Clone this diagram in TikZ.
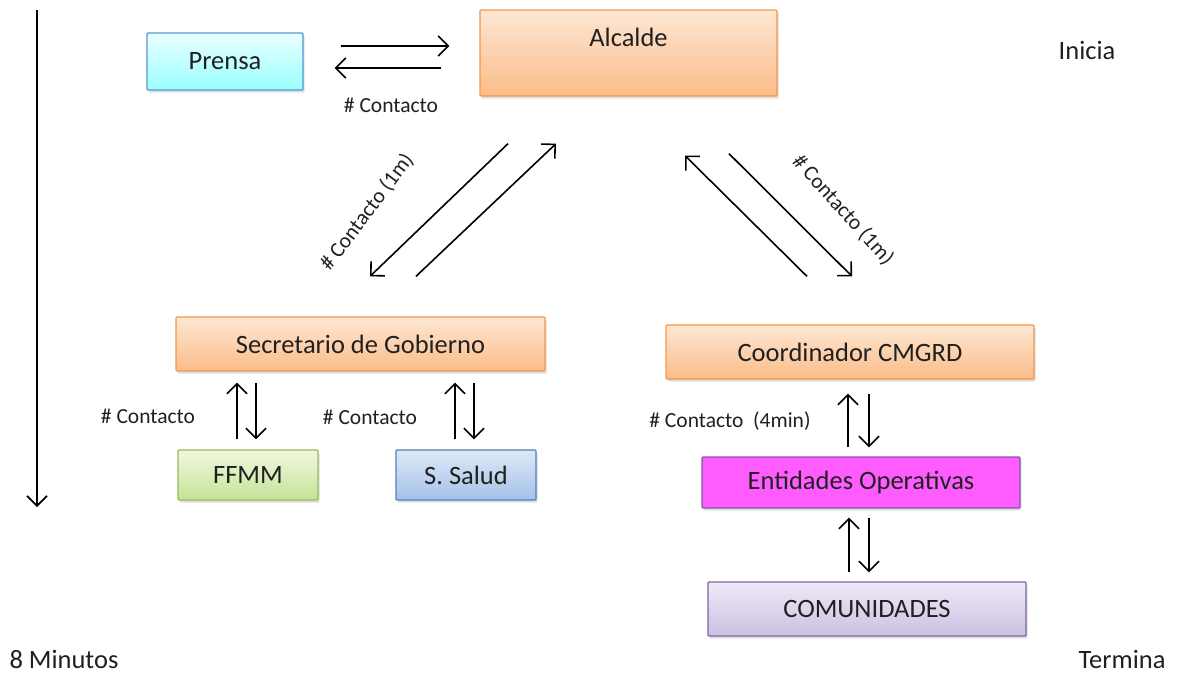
\documentclass[tikz,border=0pt]{standalone}
\usepackage{fontspec}
\setmainfont{Carlito}
\usetikzlibrary{arrows.meta,calc,shadows}
\definecolor{txt}{HTML}{202020}
\begin{document}
\begin{tikzpicture}[x=1pt,y=-1pt,
  box/.style={draw, line width=1.3pt, rounded corners=1pt, text=txt, font=\fontsize{26.5}{30}\selectfont,
    drop shadow={opacity=0.25, shadow xshift=1.5pt, shadow yshift=-2.5pt}},
  lbl/.style={text=txt, inner sep=1pt, font=\fontsize{21.5}{25}\selectfont},
  corner/.style={text=txt, inner sep=0pt, font=\fontsize{26.5}{30}\selectfont},
  arr/.style={line width=1.6pt, -{Straight Barb[length=10pt,width=20pt,line width=1.6pt]}}]
\definecolor{orTop}{HTML}{FDE7D4}
\definecolor{orBot}{HTML}{FBBC88}
\path[use as bounding box, fill=white] (0,0) rectangle (1177,675);

% nodes
\node[box, draw=cyan!60!blue!70, top color=cyan!8, bottom color=cyan!40!white, minimum width=156, minimum height=57] (pr) at (225,61.5) {Prensa};
\node[box, draw={rgb,255:red,247;green,150;blue,70}, top color=orTop, bottom color=orBot, minimum width=297, minimum height=86] (al) at (628.5,53) {};
\node[text=txt, font=\fontsize{26.5}{30}\selectfont] (alt) at ($(al.north)+(0,28)$) {Alcalde};
\node[box, draw={rgb,255:red,247;green,150;blue,70}, top color=orTop, bottom color=orBot, minimum width=369, minimum height=54] (sec) at (360.5,344) {Secretario de Gobierno};
\node[box, draw={rgb,255:red,155;green,187;blue,89}, top color={rgb,255:red,240;green,248;blue,224}, bottom color={rgb,255:red,197;green,227;blue,152}, minimum width=140, minimum height=50] (ff) at (248,475) {FFMM};
\node[box, draw={rgb,255:red,79;green,129;blue,189}, top color={rgb,255:red,222;green,232;blue,246}, bottom color={rgb,255:red,165;green,194;blue,234}, minimum width=140, minimum height=50] (sa) at (466,475) {S. Salud};
\node[box, draw={rgb,255:red,247;green,150;blue,70}, top color=orTop, bottom color=orBot, minimum width=368, minimum height=54] (co) at (850,352) {Coordinador CMGRD};
\node[box, draw={rgb,255:red,128;green,90;blue,160}, fill={rgb,255:red,255;green,92;blue,255}, minimum width=318, minimum height=51] (en) at (861,482.5) {Entidades Operativas};
\node[box, draw={rgb,255:red,128;green,100;blue,162}, top color={rgb,255:red,239;green,234;blue,246}, bottom color={rgb,255:red,204;green,191;blue,227}, minimum width=318, minimum height=54] (cm) at (867,609) {COMUNIDADES};

% corner texts
\node[corner] (ini) at (1087,50) {Inicia};
\node[corner] (min) at (64,659) {8 Minutos};
\node[corner] (ter) at (1122,659) {Termina};

% timeline
\coordinate (t0) at (37,10);
\coordinate (t1) at (37,507);
\draw[arr] (t0) -- (t1);

% Prensa - Alcalde
\draw[arr] ($(pr.east)+(37,-15.5)$) -- ($(al.west |- pr.east)+(-30,-15.5)$);
\draw[arr] ($(al.west |- pr.east)+(-38,6.5)$) -- ($(pr.east)+(31,6.5)$);
\node[lbl] (l1) at (391,105) {\# Contacto};

% Alcalde - Secretario
\draw[arr] ($(al.south)+(-120.5,47)$) -- ($(sec.north)+(9.5,-40)$);
\draw[arr] ($(sec.north)+(55.5,-40)$) -- ($(al.south)+(-72.5,47)$);
\node[lbl, rotate=53] (l2) at (367,212) {\# Contacto (1m)};

% Alcalde - Coordinador
\draw[arr] ($(co.north)+(-43,-48)$) -- ($(al.south)+(56.5,59)$);
\draw[arr] ($(al.south)+(100.5,57)$) -- ($(co.north)+(2,-48)$);
\node[lbl, rotate=-48] (l3) at (843,210) {\# Contacto (1m)};

% Secretario - FFMM
\draw[arr] ($(ff.north)+(-11,-10)$) -- ($(ff.north |- sec.south)+(-11,11)$);
\draw[arr] ($(ff.north |- sec.south)+(8,11)$) -- ($(ff.north)+(8,-10)$);
\node[lbl] (l4) at (148,416) {\# Contacto};

% Secretario - S. Salud
\draw[arr] ($(sa.north)+(-11,-10)$) -- ($(sa.north |- sec.south)+(-11,11)$);
\draw[arr] ($(sa.north |- sec.south)+(8,11)$) -- ($(sa.north)+(8,-10)$);
\node[lbl] (l5) at (370,417) {\# Contacto};

% Coordinador - Entidades
\draw[arr] ($(en.north)+(-13,-9)$) -- ($(en.north |- co.south)+(-13,14)$);
\draw[arr] ($(en.north |- co.south)+(8,14)$) -- ($(en.north)+(8,-9)$);
\node[lbl] (l6) at (730,421) {\# Contacto\ \ (4min)};

% Entidades - Comunidades
\draw[arr] ($(cm.north)+(-18,-9)$) -- ($(cm.north |- en.south)+(-18,9)$);
\draw[arr] ($(cm.north |- en.south)+(2,9)$) -- ($(cm.north)+(2,-9)$);
\end{tikzpicture}
\end{document}
